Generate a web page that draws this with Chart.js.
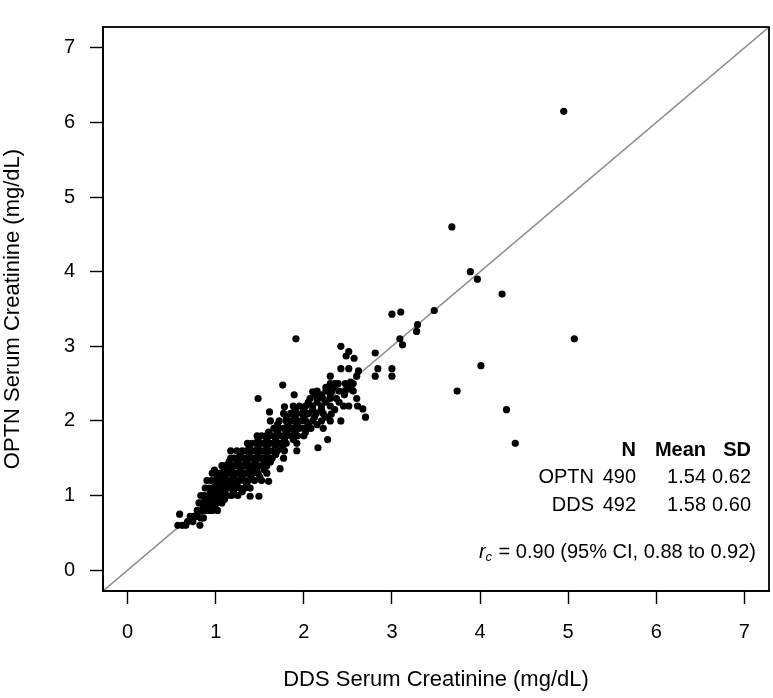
<!DOCTYPE html>
<html>
<head>
<meta charset="utf-8">
<script src="https://cdn.jsdelivr.net/npm/chart.js@4"></script>
<style>
  html, body { margin: 0; padding: 0; background: #fff; }
  #wrap { width: 773px; height: 698px; }
</style>
</head>
<body>
<div id="wrap"><canvas id="my-chart" width="773" height="698"></canvas></div>
<script>
'use strict';

// DATA (DDS on x, OPTN on y)
let ddsValues = [
  0.57, 0.62, 0.66, 0.82,
  0.71, 0.75, 0.79, 0.83, 0.86, 0.59,
  0.79, 0.84, 0.88, 0.92, 0.96, 1.02,
  0.81, 0.85, 0.89, 0.93, 0.97, 1.01, 1.07,
  0.83, 0.87, 0.92, 0.96, 1.00, 1.04, 1.08, 1.13, 1.18, 1.25, 1.39, 1.49,
  0.88, 0.93, 0.97, 1.01, 1.05, 1.09, 1.13, 1.17, 1.22, 1.27, 1.33, 1.39,
  0.90, 0.95, 0.99, 1.03, 1.07, 1.11, 1.15, 1.19, 1.23, 1.27, 1.32, 1.37, 1.44, 1.52, 1.60,
  0.96, 1.00, 1.05, 1.09, 1.13, 1.17, 1.21, 1.25, 1.29, 1.33, 1.37, 1.42, 1.48, 1.58, 0.985,
  1.07, 1.11, 1.15, 1.19, 1.23, 1.27, 1.31, 1.35, 1.39, 1.43, 1.47, 1.52, 1.58, 1.73,
  1.17, 1.21, 1.25, 1.29, 1.33, 1.37, 1.41, 1.45, 1.49, 1.53, 1.58, 1.64, 1.77,
  1.17, 1.24, 1.30, 1.35, 1.40, 1.44, 1.48, 1.52, 1.56, 1.60, 1.65, 1.70, 1.78, 1.92,
  1.36, 1.41, 1.46, 1.50, 1.54, 1.58, 1.62, 1.67, 1.72, 1.80, 1.92, 2.27,
  1.47, 1.52, 1.57, 1.61, 1.65, 1.70, 1.75, 1.80, 1.86, 1.93, 2.00, 2.16,
  1.66, 1.72, 1.77, 1.82, 1.86, 1.90, 1.95, 2.00, 2.08, 2.22,
  1.62, 1.72, 1.80, 1.86, 1.92, 1.97, 2.02, 2.10, 2.20, 2.30, 2.42,
  1.77, 1.85, 1.92, 1.98, 2.05, 2.14, 2.22, 1.61, 2.31,
  1.88, 1.95, 2.02, 2.10, 2.20, 2.30, 2.45, 1.78, 2.51, 2.61, 2.67,
  1.48, 2.07, 2.15, 2.22, 2.30, 2.37, 1.89, 2.46, 2.60, 2.16,
  2.15, 2.25, 2.32, 2.40, 2.47, 2.56, 2.10, 2.27, 2.55,
  1.76, 2.30, 2.37, 2.47, 2.53, 2.56, 2.35, 2.39,
  2.30, 2.60, 2.81, 3.00, 3.74,
  2.42, 2.51, 2.62, 2.84, 3.00, 4.01,
  2.57, 2.48, 2.51, 2.81, 2.42, 3.12, 3.09,
  1.91, 5.07, 3.28, 3.29, 3.00, 3.10, 3.48,
  4.25, 3.97, 3.89, 3.68, 4.95,
  2.70, 4.30, 4.40,
  // in-between readings that fill out the band
  0.68, 0.74,
  0.86, 0.91, 0.99,
  0.88, 0.95, 1.03, 1.10,
  0.94, 1.02, 1.10, 1.20, 1.30,
  1.00, 1.08, 1.16, 1.24, 1.35,
  1.02, 1.10, 1.20, 1.30, 1.40, 1.50,
  1.10, 1.18, 1.28, 1.38, 1.46, 1.55,
  1.15, 1.25, 1.35, 1.45, 1.55, 1.62,
  1.28, 1.38, 1.48, 1.58, 1.68,
  1.38, 1.48, 1.58, 1.68, 1.76,
  1.48, 1.58, 1.68, 1.78, 1.88,
  1.60, 1.70, 1.80, 1.90, 2.02,
  1.70, 1.82, 1.92, 2.05, 2.15,
  1.80, 1.90, 2.00, 2.12, 2.25,
  1.90, 2.00, 2.10, 2.20, 2.35,
  2.05, 2.15, 2.25, 2.40,
  2.12, 2.20, 2.30,
  2.25, 2.35, 2.50
];

let optnValues = [
  0.60, 0.60, 0.60, 0.60,
  0.72, 0.72, 0.72, 0.70, 0.70, 0.75,
  0.80, 0.80, 0.80, 0.80, 0.80, 0.80,
  0.90, 0.90, 0.90, 0.90, 0.90, 0.90, 0.90,
  1.00, 1.00, 1.00, 1.00, 1.00, 1.00, 1.00, 1.00, 1.00, 1.00, 0.99, 0.99,
  1.10, 1.10, 1.10, 1.10, 1.10, 1.10, 1.10, 1.10, 1.10, 1.10, 1.10, 1.10,
  1.20, 1.20, 1.20, 1.20, 1.20, 1.20, 1.20, 1.20, 1.20, 1.20, 1.20, 1.20, 1.20, 1.20, 1.19,
  1.30, 1.30, 1.30, 1.30, 1.30, 1.30, 1.30, 1.30, 1.30, 1.30, 1.30, 1.30, 1.30, 1.30, 1.34,
  1.40, 1.40, 1.40, 1.40, 1.40, 1.40, 1.40, 1.40, 1.40, 1.40, 1.40, 1.40, 1.40, 1.36,
  1.50, 1.50, 1.50, 1.50, 1.50, 1.50, 1.50, 1.50, 1.50, 1.50, 1.50, 1.50, 1.50,
  1.60, 1.60, 1.60, 1.60, 1.60, 1.60, 1.60, 1.60, 1.60, 1.60, 1.60, 1.60, 1.60, 1.60,
  1.70, 1.70, 1.70, 1.70, 1.70, 1.70, 1.70, 1.70, 1.70, 1.70, 1.70, 1.75,
  1.80, 1.80, 1.80, 1.80, 1.80, 1.80, 1.80, 1.80, 1.80, 1.80, 1.80, 1.64,
  1.90, 1.90, 1.90, 1.90, 1.90, 1.90, 1.90, 1.90, 1.90, 1.90,
  2.00, 2.00, 2.00, 2.00, 2.00, 2.00, 2.00, 2.00, 2.00, 2.00, 2.00,
  2.10, 2.10, 2.10, 2.10, 2.10, 2.10, 2.10, 2.12, 2.09,
  2.20, 2.20, 2.20, 2.20, 2.20, 2.20, 2.20, 2.19, 2.20, 2.20, 2.16,
  2.30, 2.30, 2.30, 2.30, 2.30, 2.30, 2.35, 2.35, 2.30, 2.36,
  2.40, 2.40, 2.40, 2.40, 2.40, 2.40, 2.39, 2.43, 2.41,
  2.48, 2.50, 2.50, 2.50, 2.52, 2.50, 2.50, 2.50,
  2.60, 2.60, 2.60, 2.60, 2.40,
  2.70, 2.70, 2.67, 2.70, 2.70, 2.74,
  2.84, 2.87, 2.93, 2.91, 3.00, 3.02, 3.10,
  3.10, 3.10, 3.20, 3.29, 3.43, 3.46, 3.48,
  3.70, 3.90, 4.00, 4.60, 6.15,
  2.05, 2.15, 1.70,
  0.65, 0.65,
  0.85, 0.85, 0.85,
  0.95, 0.95, 0.95, 0.95,
  1.05, 1.05, 1.05, 1.05, 1.05,
  1.15, 1.15, 1.15, 1.15, 1.15,
  1.25, 1.25, 1.25, 1.25, 1.25, 1.25,
  1.35, 1.35, 1.35, 1.35, 1.35, 1.35,
  1.45, 1.45, 1.45, 1.45, 1.45, 1.45,
  1.55, 1.55, 1.55, 1.55, 1.55,
  1.65, 1.65, 1.65, 1.65, 1.65,
  1.75, 1.75, 1.75, 1.75, 1.75,
  1.85, 1.85, 1.85, 1.85, 1.85,
  1.95, 1.95, 1.95, 1.95, 1.95,
  2.05, 2.05, 2.05, 2.05, 2.05,
  2.15, 2.15, 2.15, 2.15, 2.15,
  2.25, 2.25, 2.25, 2.25,
  2.35, 2.35, 2.35,
  2.45, 2.45, 2.45
];

let tickValues = [0, 1, 2, 3, 4, 5, 6, 7];
let axisMin = -0.28;
let axisMax = 7.28;

// summary table shown in the corner
let tableHeader = ['N', 'Mean', 'SD'];
let tableRows = [
  ['OPTN', '490', '1.54', '0.62'],
  ['DDS', '492', '1.58', '0.60']
];
let concordance = ' = 0.90 (95% CI, 0.88 to 0.92)';

let FONT = '"Liberation Sans", Arial, Helvetica, sans-serif';

let points = [];
for (let i = 0; i < ddsValues.length; i++) {
  points.push({ x: ddsValues[i], y: optnValues[i] });
}

// identity line y = x across the whole axis range
let identityLine = [{ x: axisMin, y: axisMin }, { x: axisMax, y: axisMax }];

// box around plot + stats table
let boxAndTable = {
  id: 'boxAndTable',
  afterDraw(chart) {
    let c = chart.ctx;
    let a = chart.chartArea;
    c.save();
    c.strokeStyle = '#000';
    c.lineWidth = 1.8;
    c.strokeRect(a.left, a.top, a.right - a.left, a.bottom - a.top);

    let colRight = [a.right - 175, a.right - 133, a.right - 63, a.right - 18];
    c.fillStyle = '#000';
    c.textBaseline = 'middle';
    c.textAlign = 'right';

    c.font = 'bold 20px ' + FONT;
    for (let i = 0; i < tableHeader.length; i++) {
      c.fillText(tableHeader[i], colRight[i + 1], a.bottom - 141);
    }
    c.font = '20px ' + FONT;
    for (let r = 0; r < tableRows.length; r++) {
      for (let k = 0; k < tableRows[r].length; k++) {
        c.fillText(tableRows[r][k], colRight[k], a.bottom - 114 + r * 28);
      }
    }

    // r_c line
    let yR = a.bottom - 39;
    let rest = c.measureText(concordance).width;
    let xRight = a.right - 13;
    c.fillText(concordance, xRight, yR);
    c.font = '13px ' + FONT;
    let cw = c.measureText('c').width;
    c.font = 'italic 13px ' + FONT;
    c.textAlign = 'left';
    c.fillText('c', xRight - rest - cw - 1, yR + 5);
    c.font = 'italic 20px ' + FONT;
    c.textAlign = 'right';
    c.fillText('r', xRight - rest - cw - 1, yR);
    c.restore();
  }
};

function axisOpts(title) {
  return {
    type: 'linear',
    min: axisMin,
    max: axisMax,
    afterBuildTicks: (scale) => {
      scale.ticks = tickValues.map(v => ({ value: v }));
    },
    ticks: {
      color: '#000',
      font: { family: FONT, size: 20 },
      callback: (v) => String(v)
    },
    grid: {
      drawOnChartArea: false,
      drawTicks: true,
      tickLength: 13,
      tickWidth: 1.4,
      tickColor: '#000'
    },
    border: { display: true, color: '#000', width: 1.8 },
    title: {
      display: true,
      text: title,
      color: '#000',
      font: { family: FONT, size: 22 }
    }
  };
}

let xOpts = axisOpts('DDS Serum Creatinine (mg/dL)');
xOpts.ticks.padding = 16;
xOpts.title.padding = { top: 0, bottom: 5 };
xOpts.afterFit = (scale) => { scale.height = 107; };

let yOpts = axisOpts('OPTN Serum Creatinine (mg/dL)');
yOpts.ticks.padding = 15;
yOpts.title.padding = { top: 0, bottom: 0 };
yOpts.afterFit = (scale) => { scale.width = 103; };

let ctx = document.getElementById('my-chart');

new Chart(ctx, {
  type: 'scatter',
  data: {
    datasets: [
      {
        label: 'OPTN vs DDS',
        data: points,
        pointRadius: 3.6,
        pointBackgroundColor: '#000',
        pointBorderWidth: 0,
        showLine: false
      },
      {
        type: 'line',
        label: 'identity',
        data: identityLine,
        borderColor: '#8c8c8c',
        borderWidth: 1.5,
        pointRadius: 0,
        fill: false
      }
    ]
  },
  options: {
    responsive: false,
    animation: false,
    devicePixelRatio: 1,
    layout: { padding: { top: 3, right: 3, left: 0, bottom: 0 } },
    plugins: {
      legend: { display: false },
      tooltip: { enabled: false }
    },
    scales: { x: xOpts, y: yOpts }
  },
  plugins: [boxAndTable]
});
</script>
</body>
</html>
